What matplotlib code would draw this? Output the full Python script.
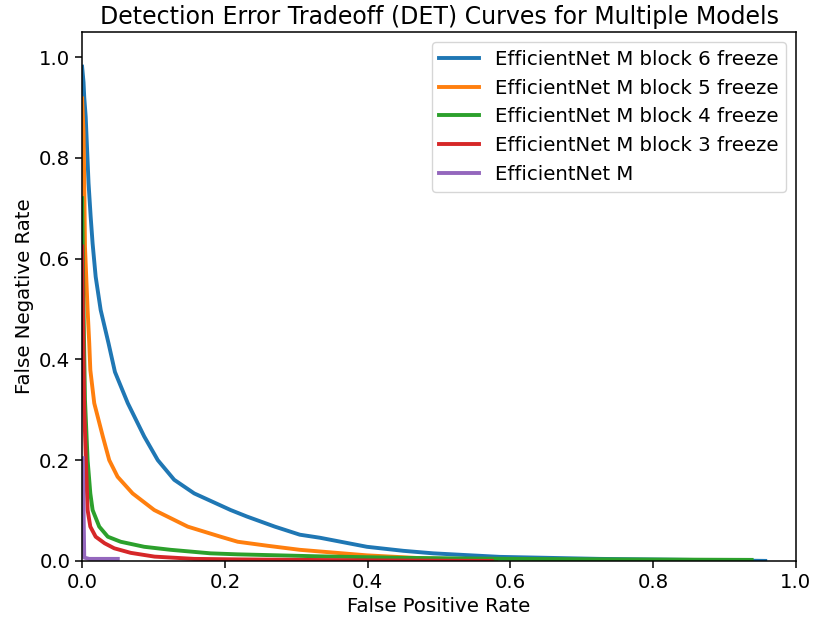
import matplotlib
matplotlib.use("Agg")
import matplotlib.pyplot as plt

# DET curves (false positive rate, false negative rate)
labels = ["EfficientNet M block 6 freeze", "EfficientNet M block 5 freeze",
          "EfficientNet M block 4 freeze", "EfficientNet M block 3 freeze",
          "EfficientNet M"]

fpr_b6 = [0.0, 0.002, 0.003, 0.005, 0.009, 0.012, 0.0147, 0.019, 0.026, 0.037, 0.046,
          0.064, 0.087, 0.106, 0.129, 0.157, 0.208, 0.231, 0.27, 0.305, 0.333, 0.399,
          0.45, 0.492, 0.585, 0.725, 0.85, 0.957]
fnr_b6 = [0.981, 0.95, 0.92, 0.882, 0.75, 0.683, 0.63, 0.564, 0.498, 0.432, 0.375,
          0.313, 0.247, 0.2, 0.161, 0.134, 0.101, 0.088, 0.068, 0.052, 0.046, 0.028,
          0.02, 0.015, 0.008, 0.004, 0.002, 0.0]

fpr_b5 = [0.0, 0.002, 0.003, 0.004, 0.0077, 0.010, 0.0115, 0.017, 0.029, 0.038, 0.0497,
          0.0707, 0.101, 0.148, 0.194, 0.218, 0.26, 0.305, 0.399, 0.48, 0.539, 0.58]
fnr_b5 = [0.918, 0.85, 0.75, 0.624, 0.498, 0.432, 0.379, 0.313, 0.247, 0.2, 0.167,
          0.134, 0.101, 0.068, 0.048, 0.038, 0.03, 0.022, 0.011, 0.005, 0.003, 0.0]

fpr_b4 = [0.0, 0.002, 0.004, 0.0077, 0.0115, 0.0147, 0.024, 0.036, 0.054, 0.087, 0.124,
          0.18, 0.218, 0.333, 0.45, 0.6, 0.75, 0.938]
fnr_b4 = [0.72, 0.5, 0.32, 0.2, 0.134, 0.101, 0.068, 0.048, 0.038, 0.028, 0.022,
          0.015, 0.013, 0.009, 0.006, 0.004, 0.003, 0.002]

fpr_b3 = [0.0, 0.002, 0.003, 0.0053, 0.0077, 0.0115, 0.019, 0.0315, 0.045, 0.068,
          0.1015, 0.157, 0.218, 0.4, 0.574]
fnr_b3 = [0.624, 0.4, 0.3, 0.2, 0.101, 0.068, 0.048, 0.035, 0.025, 0.016,
          0.0085, 0.004, 0.003, 0.001, 0.0]

fpr_m = [0.001, 0.003, 0.01, 0.05]
fnr_m = [0.204, 0.0065, 0.004, 0.004]

plt.rcParams['font.size'] = 14.2
plt.rcParams['axes.linewidth'] = 1.1
plt.rcParams['xtick.major.size'] = 4.9
plt.rcParams['ytick.major.size'] = 4.9
plt.rcParams['xtick.major.width'] = 1.1
plt.rcParams['ytick.major.width'] = 1.1

fig = plt.figure(figsize=(8.13, 6.26), dpi=100)
ax = fig.add_axes([0.101, 0.104, 0.878, 0.845])

ax.plot(fpr_b6, fnr_b6, lw=2.8, label=labels[0])
ax.plot(fpr_b5, fnr_b5, lw=2.8, label=labels[1])
ax.plot(fpr_b4, fnr_b4, lw=2.8, label=labels[2])
ax.plot(fpr_b3, fnr_b3, lw=2.8, label=labels[3])
ax.plot(fpr_m, fnr_m, lw=2.8, label=labels[4])

ax.set_xlim(0.0, 1.0)
ax.set_ylim(0.0, 1.05)
ax.set_xlabel('False Positive Rate')
ax.set_ylabel('False Negative Rate')
ax.set_title('Detection Error Tradeoff (DET) Curves for Multiple Models')
ax.legend(loc='upper right')

fig.savefig('out.png', dpi=100)
